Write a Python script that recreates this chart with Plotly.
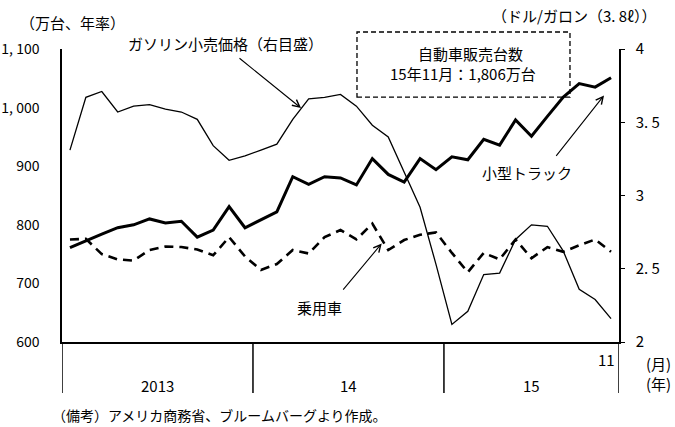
import plotly.graph_objects as go

# Months: 2013-01 .. 2015-11 (35 monthly points)
month_idx = list(range(35))

# Light trucks (万台, annualized)
light_trucks = [761, 773, 784, 795, 800, 810, 803, 806, 779, 791, 831, 795,
                809, 822, 882, 869, 882, 880, 868, 913, 886, 873, 913, 894,
                916, 911, 946, 936, 979, 951, 985, 1018, 1041, 1035, 1051]

# Passenger cars (万台, annualized)
passenger_cars = [775, 776, 750, 741, 739, 757, 763, 762, 758, 748, 779, 746,
                  723, 733, 757, 751, 779, 791, 775, 802, 757, 774, 783, 787,
                  752, 719, 752, 741, 775, 743, 762, 754, 765, 775, 754]

# Gasoline retail price (USD/gallon), right axis
gasoline = [3.31, 3.67, 3.71, 3.57, 3.61, 3.62, 3.59, 3.57, 3.52, 3.34, 3.24, 3.27,
            3.31, 3.35, 3.52, 3.66, 3.67, 3.69, 3.61, 3.48, 3.40, 3.16, 2.92, 2.53,
            2.12, 2.21, 2.46, 2.47, 2.70, 2.80, 2.79, 2.62, 2.36, 2.29, 2.16]

left_ticks = [600, 700, 800, 900, 1000, 1100]
left_ticktext = ["600", "700", "800", "900", "1, 000", "1, 100"]
right_ticks = [2, 2.5, 3, 3.5, 4]
right_ticktext = ["2", "2. 5", "3", "3. 5", "4"]

year_labels = ["2013", "14", "15"]
year_centers = [5.5, 17.5, 29.0]
year_bounds = [-0.5, 11.5, 23.5, 34.5]

FONT = "Noto Sans CJK JP"

fig = go.Figure()
fig.add_trace(go.Scatter(x=month_idx, y=gasoline, yaxis="y2", mode="lines",
                         line=dict(color="black", width=1.3), showlegend=False))
fig.add_trace(go.Scatter(x=month_idx, y=passenger_cars, mode="lines",
                         line=dict(color="black", width=2.6, dash="9px,6px"), showlegend=False))
fig.add_trace(go.Scatter(x=month_idx, y=light_trucks, mode="lines",
                         line=dict(color="black", width=3), showlegend=False))

fig.update_layout(
    width=675, height=427,
    margin=dict(l=62, r=56, t=49, b=85, autoexpand=False),
    plot_bgcolor="white", paper_bgcolor="white",
    font=dict(family=FONT, size=14, color="black"),
    xaxis=dict(range=[-0.5, 34.5], showgrid=False, zeroline=False, showticklabels=False,
               ticks="", showline=True, linecolor="black", linewidth=1.5, automargin=False),
    yaxis=dict(range=[600, 1100], tickvals=left_ticks, ticktext=left_ticktext,
               showgrid=False, zeroline=False, showline=True, linecolor="black",
               linewidth=1.5, ticks="", ticklabelstandoff=18, automargin=False,
               tickfont=dict(family=FONT, size=14)),
    yaxis2=dict(range=[2, 4], overlaying="y", side="right", tickvals=right_ticks,
                ticktext=right_ticktext, showgrid=False, zeroline=False, showline=True,
                linecolor="black", linewidth=1.5, ticks="outside", ticklen=4,
                tickcolor="black", ticklabelstandoff=8, automargin=False,
                tickfont=dict(family=FONT, size=15)),
)

# Year divider lines extending below the x axis
for xb in year_bounds:
    fig.add_shape(type="line", xref="x", yref="paper", x0=xb, x1=xb, y0=-0.174, y1=0,
                  line=dict(color="black", width=1.5))

# Dashed annotation box
fig.add_shape(type="rect", xref="paper", yref="paper", x0=0.5296, x1=0.912, y0=0.836, y1=1.058,
              line=dict(color="black", width=1.3, dash="5px,3px"), fillcolor="rgba(0,0,0,0)")

def txt(x, y, s, size=15, xanchor="center", xref="paper", yref="paper"):
    fig.add_annotation(x=x, y=y, xref=xref, yref=yref, text=s, showarrow=False,
                       xanchor=xanchor, yanchor="middle", font=dict(family=FONT, size=size, color="black"))

txt(0.018, 1.089, "（万台、年率）")
txt(0.919, 1.116, "（ドル/ガロン（3. 8ℓ））")
txt(0.293, 1.020, "ガソリン小売価格（右目盛）")
txt(0.734, 0.986, "自動車販売台数")
txt(0.720, 0.918, "15年11月：1,806万台")
txt(0.835, 0.577, "小型トラック")
txt(0.463, 0.119, "乗用車")
txt(0.9964, -0.061, "11", xanchor="right")
txt(1.097, -0.072, "(月)", xanchor="right")
txt(1.097, -0.143, "(年)", xanchor="right")
for lab, xc in zip(year_labels, year_centers):
    fig.add_annotation(x=xc, y=-0.147, xref="x", yref="paper", text=lab, showarrow=False,
                       yanchor="middle", font=dict(family=FONT, size=15, color="black"))
txt(-0.0215, -0.249, "（備考）アメリカ商務省、ブルームバーグより作成。", size=14, xanchor="left")

# Arrows
def arrow(x, y, ax, ay, yref):
    fig.add_annotation(x=x, y=y, ax=ax, ay=ay, xref="x", yref=yref, axref="x", ayref=yref,
                       text="", showarrow=True, arrowhead=5, arrowsize=1.3, arrowwidth=1.1,
                       arrowcolor="black", standoff=0)

arrow(14.52, 3.597, 10.56, 3.945, "y2")
arrow(33.56, 1020.8, 30.48, 915.2, "y")
arrow(19.59, 768.1, 17.09, 686.9, "y")

fig.write_html("out.html")
